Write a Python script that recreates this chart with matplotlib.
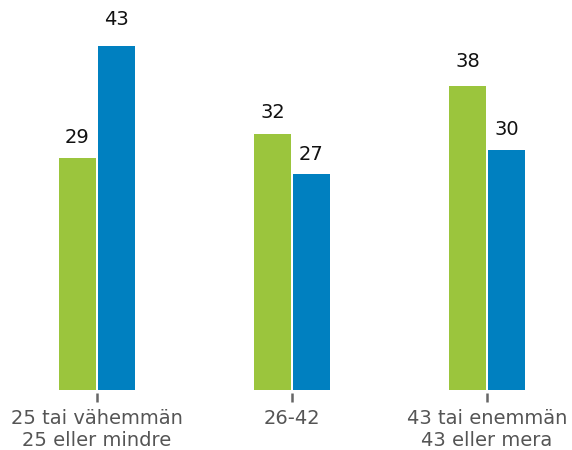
import matplotlib
matplotlib.use("Agg")
import matplotlib.pyplot as plt
import numpy as np

categories = ["25 tai vähemmän\n25 eller mindre", "26-42", "43 tai enemmän\n43 eller mera"]
series_green = [29, 32, 38]
series_blue = [43, 27, 30]

GREEN = "#9bc53d"
BLUE = "#0080c0"

fig = plt.figure(figsize=(5.72, 4.5), dpi=100)
ax = fig.add_axes([11.2 / 572, 60 / 450, (568.9 - 11.2) / 572, 390 / 450])
# ticks hang just below the bar baseline
ax.spines["bottom"].set_position(("outward", 2.2))

x = np.arange(len(categories))
w = 0.193
off = 0.1
bg = ax.bar(x - off, series_green, width=w, color=GREEN, linewidth=0)
bb = ax.bar(x + off, series_blue, width=w, color=BLUE, linewidth=0)

# value labels sit a little above each bar, spaced slightly wider than the bars
for bars, vals in ((bg, series_green), (bb, series_blue)):
    for rect, v in zip(bars, vals):
        ax.text(rect.get_x() + rect.get_width() / 2, v * 1.055 + 0.27, str(v),
                ha="center", va="baseline", fontsize=14, color="#111111")

ax.set_xlim(-0.44, 2.42)
ax.set_ylim(0, 48.75)
ax.set_xticks(x)
ax.set_xticklabels(categories, fontsize=14, color="#555555", linespacing=1.17)
ax.tick_params(axis="x", length=6.3, width=1.8, color="#666666", pad=5.5)
ax.set_yticks([])
for s in ax.spines.values():
    s.set_visible(False)

fig.savefig("out.png", dpi=100)
